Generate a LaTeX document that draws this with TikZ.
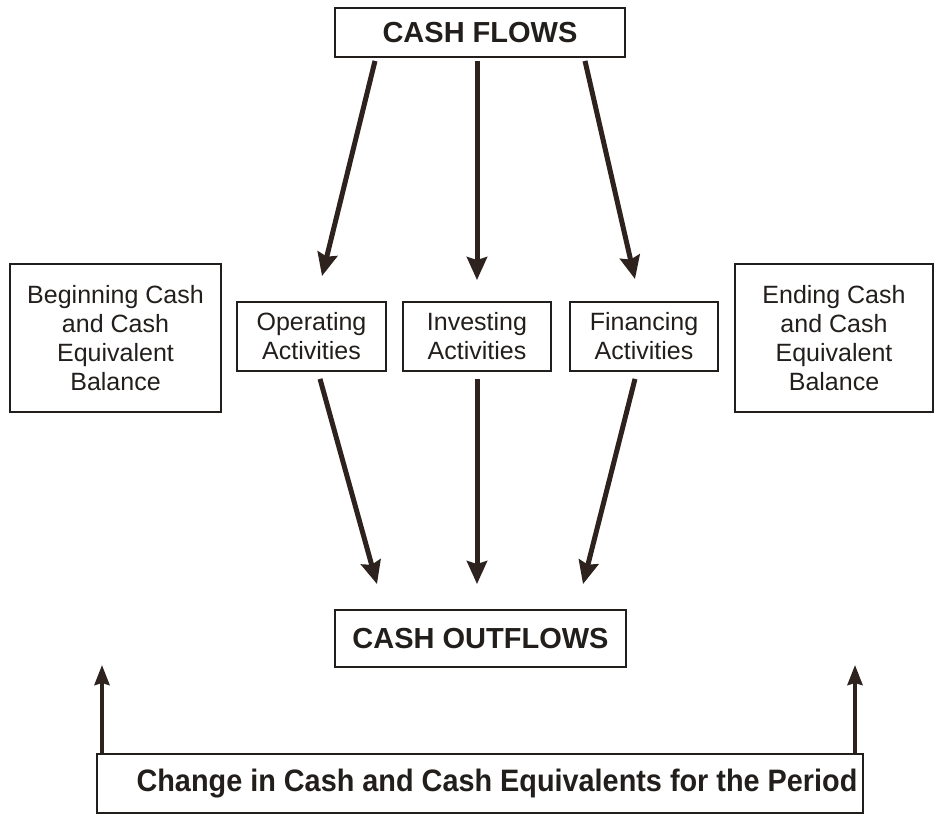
\documentclass[tikz,border=0pt]{standalone}
\usepackage{fontspec}
\setmainfont{Liberation Sans}
\usetikzlibrary{arrows.meta}
\definecolor{ink}{RGB}{34,30,28}
\definecolor{arrowc}{RGB}{45,34,30}
\tikzset{
  box/.style={draw=ink, line width=1.8pt, text=ink, align=center, inner sep=0pt,
    font=\fontsize{25pt}{29pt}\selectfont},
  bigbox/.style={box, font=\fontsize{29pt}{34pt}\selectfont\bfseries},
  bigarr/.style={draw=arrowc, line width=5pt,
    -{Stealth[length=23pt,width=20pt,inset=3pt]}},
  uparr/.style={draw=arrowc, line width=3.8pt,
    -{Stealth[length=20pt,width=15pt,inset=2pt]}}
}
\begin{document}
\begin{tikzpicture}[x=1pt,y=-1pt]
\useasboundingbox (0,0) rectangle (935,815);
\node[bigbox, minimum width=290pt, minimum height=49pt] (cf) at (480,32.5) {CASH FLOWS};
\node[box, minimum width=149pt, minimum height=69pt] (op) at (311.5,336.5) {Operating\\Activities};
\node[box, minimum width=148pt, minimum height=69pt] (inv) at (477,336.5) {Investing\\Activities};
\node[box, minimum width=148pt, minimum height=69pt] (fin) at (644,336.5) {Financing\\Activities};
\node[box, minimum width=211pt, minimum height=148pt] (beg) at (115.5,338) {Beginning Cash\\and Cash\\Equivalent\\Balance};
\node[box, minimum width=198pt, minimum height=148pt] (end) at (834,338) {Ending Cash\\and Cash\\Equivalent\\Balance};
\node[bigbox, minimum width=291pt, minimum height=57pt] (out) at (480.5,638.5) {CASH OUTFLOWS};
\node[bigbox, minimum width=766pt, minimum height=59pt, font=\fontsize{31pt}{36pt}\selectfont\bfseries] (chg) at (480,783.5) {\hspace*{34pt}\scalebox{0.93}[1]{Change in Cash and Cash Equivalents for the Period}};

\draw[bigarr] ([xshift=-105pt,yshift=-3pt]cf.south) -- ([xshift=10.5pt,yshift=25pt]op.north);
\draw[bigarr] ([xshift=-3pt,yshift=-3pt]cf.south) -- ([xshift=0pt,yshift=21pt]inv.north);
\draw[bigarr] ([xshift=105pt,yshift=-3pt]cf.south) -- ([xshift=-9pt,yshift=22pt]fin.north);

\draw[bigarr] ([xshift=8.5pt,yshift=-7pt]op.south) -- ([xshift=-103.5pt,yshift=25pt]out.north);
\draw[bigarr] ([xshift=0pt,yshift=-7pt]inv.south) -- ([xshift=-3.5pt,yshift=25pt]out.north);
\draw[bigarr] ([xshift=-9pt,yshift=-7pt]fin.south) -- ([xshift=102.5pt,yshift=25pt]out.north);

\coordinate (upL) at (102,665);
\coordinate (upR) at (855,665);
\draw[uparr] (chg.north -| upL) -- (upL);
\draw[uparr] (chg.north -| upR) -- (upR);
\end{tikzpicture}
\end{document}
